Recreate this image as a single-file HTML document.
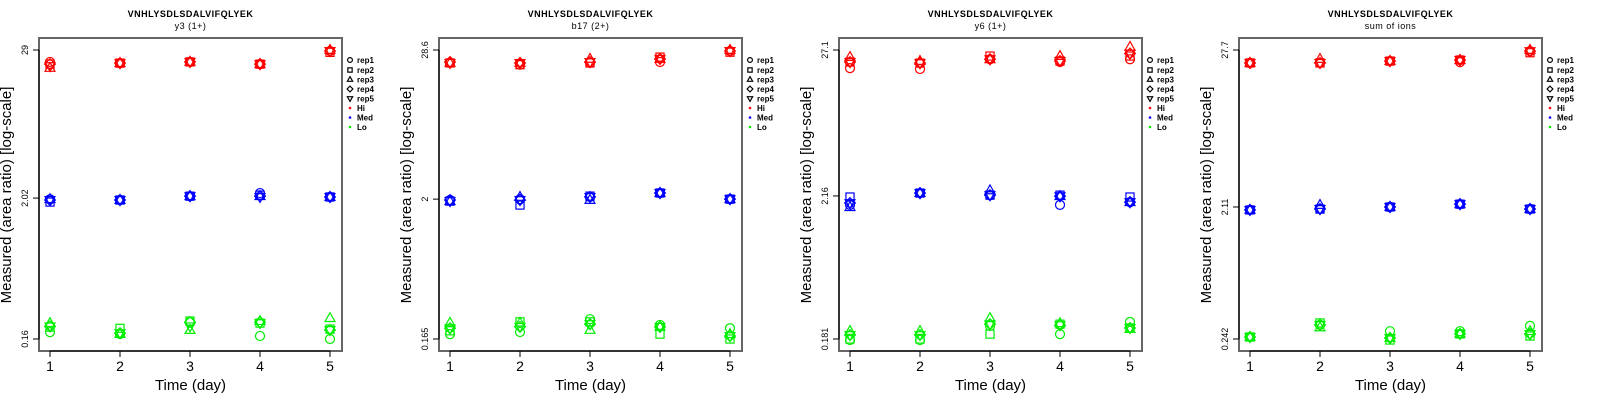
<!DOCTYPE html>
<html><head><meta charset="utf-8"><style>
html,body{margin:0;padding:0;background:#fff;}
svg{display:block;font-family:"Liberation Sans",sans-serif;}
</style></head><body>
<svg id="chart" width="1600" height="400" viewBox="0 0 1600 400" xmlns="http://www.w3.org/2000/svg"></svg>
<script>
const days = [1,2,3,4,5];
const repNames = ["rep1","rep2","rep3","rep4","rep5"];
const groupNames = ["Hi","Med","Lo"];
const panelTitles = ["y3 (1+)","b17 (2+)","y6 (1+)","sum of ions"];
const peptide = "VNHLYSDLSDALVIFQLYEK";
const tickLabels = [["29","2.02","0.16"],["28.6","2","0.165"],["27.1","2.16","0.181"],["27.7","2.11","0.242"]];
const tickValues = [[29,2.02,0.16],[28.6,2,0.165],[27.1,2.16,0.181],[27.7,2.11,0.242]];
// values[rep][day]
const p1Hi = [[23.4,22.9,23.4,22.5,28.5],[22.5,22.9,23.4,22.5,27.8],[21.0,22.9,23.4,22.5,29.0],[22.5,22.9,23.4,22.5,28.5],[21.7,22.9,23.4,22.5,28.5]];
const p1Med = [[1.98,1.95,2.09,2.21,2.06],[1.88,1.95,2.09,2.13,2.06],[1.98,1.95,2.09,2.09,2.06],[1.95,1.95,2.09,2.09,2.06],[1.95,1.95,2.09,2.06,2.06]];
const p1Lo = [[0.181,0.175,0.217,0.169,0.16],[0.198,0.194,0.221,0.213,0.191],[0.213,0.175,0.188,0.221,0.233],[0.201,0.178,0.217,0.217,0.188],[0.201,0.178,0.201,0.213,0.188]];
const p2Hi = [[22.7,22.0,22.7,23.1,28.1],[22.7,22.0,22.7,25.2,27.5],[22.7,22.7,24.4,24.4,28.6],[23.1,22.7,23.1,24.4,28.1],[22.7,22.7,23.1,24.4,28.1]];
const p2Med = [[1.97,2.0,2.08,2.23,2.0],[1.93,1.80,2.11,2.23,2.0],[1.93,2.08,1.97,2.23,2.0],[1.97,1.97,2.08,2.23,2.0],[1.93,1.97,2.08,2.23,2.0]];
const p2Lo = [[0.18,0.187,0.235,0.212,0.2],[0.191,0.224,0.224,0.18,0.165],[0.22,0.22,0.194,0.205,0.18],[0.2,0.205,0.215,0.205,0.174],[0.2,0.205,0.215,0.205,0.174]];
const p3Hi = [[19.8,19.5,23.1,22.0,23.1],[22.0,21.6,24.4,22.4,24.4],[24.0,22.4,23.1,24.4,28.6],[22.0,21.6,23.1,22.4,25.5],[22.0,21.6,23.1,22.4,25.5]];
const p3Med = [[1.85,2.27,2.19,1.85,1.94],[2.12,2.27,2.19,2.19,2.12],[1.78,2.27,2.38,2.15,1.94],[1.91,2.27,2.19,2.15,1.94],[1.91,2.27,2.19,2.15,1.94]];
const p3Lo = [[0.178,0.178,0.227,0.197,0.243],[0.181,0.181,0.197,0.234,0.219],[0.208,0.208,0.26,0.238,0.215],[0.194,0.194,0.234,0.23,0.219],[0.194,0.194,0.234,0.23,0.219]];
const p4Hi = [[22.4,22.4,23.1,22.7,27.2],[22.4,22.4,23.1,23.5,26.5],[22.4,23.9,23.1,23.5,27.7],[22.4,22.4,23.1,23.5,27.2],[22.4,22.4,23.1,23.5,27.2]];
const p4Med = [[2.01,2.04,2.11,2.21,2.04],[2.01,2.04,2.11,2.21,2.04],[2.01,2.18,2.11,2.21,2.04],[2.01,2.04,2.11,2.21,2.04],[2.01,2.04,2.11,2.21,2.04]];
const p4Lo = [[0.25,0.305,0.275,0.275,0.3],[0.25,0.315,0.238,0.263,0.254],[0.25,0.293,0.246,0.263,0.275],[0.25,0.305,0.246,0.263,0.263],[0.25,0.305,0.246,0.263,0.263]];
const panelData = [[p1Hi,p1Med,p1Lo],[p2Hi,p2Med,p2Lo],[p3Hi,p3Med,p3Lo],[p4Hi,p4Med,p4Lo]];
const colors = ["#ff0000","#0000ff","#00ee00"];

const NS = "http://www.w3.org/2000/svg";
const svg = document.getElementById("chart");
function mk(tag, attrs, parent, text){
  const e = document.createElementNS(NS, tag);
  for (const k in attrs) e.setAttribute(k, attrs[k]);
  if (text !== undefined) e.textContent = text;
  parent.appendChild(e);
  return e;
}
function symbol(parent, kind, cx, cy, r, col){
  let e;
  if (kind === 0) e = mk("circle",{cx:cx,cy:cy,r:r,fill:"none",stroke:col,"stroke-width":1.2},parent);
  else if (kind === 1) e = mk("rect",{x:cx-r*0.9,y:cy-r*0.9,width:r*1.8,height:r*1.8,fill:"none",stroke:col,"stroke-width":1.2},parent);
  else if (kind === 2) e = mk("polygon",{points:`${cx},${cy-r*1.2} ${cx-r*1.1},${cy+r*0.75} ${cx+r*1.1},${cy+r*0.75}`,fill:"none",stroke:col,"stroke-width":1.2},parent);
  else if (kind === 3) e = mk("polygon",{points:`${cx},${cy-r*1.2} ${cx+r*1.2},${cy} ${cx},${cy+r*1.2} ${cx-r*1.2},${cy}`,fill:"none",stroke:col,"stroke-width":1.2},parent);
  else e = mk("polygon",{points:`${cx},${cy+r*1.2} ${cx-r*1.1},${cy-r*0.75} ${cx+r*1.1},${cy-r*0.75}`,fill:"none",stroke:col,"stroke-width":1.2},parent);
  return e;
}

for (let p = 0; p < 4; p++){
  const ox = p*400;
  const g = mk("g",{transform:`translate(${ox},0)`},svg);
  
  
  const L=39, R=342, T=38, B=351;
  const xS = d => 50 + (d-1)*70;
  const tv = tickValues[p];
  const lt = Math.log(tv[0]), lb = Math.log(tv[2]);
  const yS = v => 50 + (lt - Math.log(v))/(lt - lb)*289;

  const t1 = mk("text",{x:190.5,y:17,"text-anchor":"middle","font-size":9,"font-weight":"bold","letter-spacing":"0.5"},g,peptide);
  
  
  const t2 = mk("text",{x:190.5,y:29,"text-anchor":"middle","font-size":9,"letter-spacing":"0.5"},g,panelTitles[p]);
  
  

  const box = mk("rect",{x:L,y:T,width:R-L,height:B-T,fill:"none",stroke:"#666","stroke-width":2},g);
  
  

  // x axis
  const xa = mk("g",{},g);
  
  
  mk("line",{x1:xS(1),x2:xS(5),y1:B,y2:B,stroke:"#000","stroke-width":1},xa);
  days.forEach(d=>{
    mk("line",{x1:xS(d),x2:xS(d),y1:B,y2:B+6,stroke:"#000","stroke-width":1},xa);
    const tl = mk("text",{x:xS(d),y:371,"text-anchor":"middle","font-size":14},xa,String(d));
    
    
  });
  const xt = mk("text",{x:190.5,y:390,"text-anchor":"middle","font-size":15},g,"Time (day)");
  
  

  // y axis
  const ya = mk("g",{},g);
  
  
  mk("line",{x1:L,x2:L,y1:yS(tv[0]),y2:yS(tv[2]),stroke:"#000","stroke-width":1},ya);
  tv.forEach((v,i)=>{
    const y = yS(v);
    mk("line",{x1:L-6,x2:L,y1:y,y2:y,stroke:"#000","stroke-width":1},ya);
    const tl = mk("text",{x:28,y:y,"text-anchor":"middle","font-size":9,transform:`rotate(-90 28 ${y})`},ya,tickLabels[p][i]);
    
    
  });
  const ytx = 11 + p*0;
  const yt = mk("text",{x:ytx,y:195,"text-anchor":"middle","font-size":15,transform:`rotate(-90 ${ytx} 195)`},g,"Measured (area ratio) [log-scale]");
  
  

  // points
  const pg = mk("g",{},g);
  
  
  panelData[p].forEach((grp,gi)=>{
    grp.forEach((rep,ri)=>{
      rep.forEach((v,di)=>{
        const s = symbol(pg, ri, xS(days[di]), yS(v), 4.5, colors[gi]);
        
        
      });
    });
  });

  // legend
  const lg = mk("g",{},g);
  
  
  const rows = [60,70,79.5,89,98.5,108,117.5,127];
  repNames.forEach((n,i)=>{
    const e = mk("g",{},lg);
    
    
    symbol(e, i, 350, rows[i], 2.4, "#000");
    mk("text",{x:357,y:rows[i]+3,"font-size":8,"font-weight":"bold"},e,n);
  });
  groupNames.forEach((n,i)=>{
    const e = mk("g",{},lg);
    
    
    mk("circle",{cx:350,cy:rows[5+i],r:1.3,fill:colors[i]},e);
    mk("text",{x:357,y:rows[5+i]+3,"font-size":8,"font-weight":"bold"},e,n);
  });
}
</script>
</body></html>
